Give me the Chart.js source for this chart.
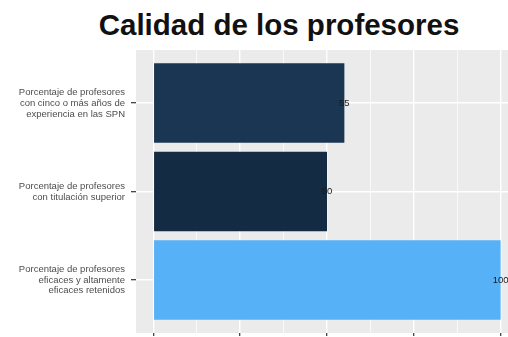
<!DOCTYPE html>
<html>
<head>
<meta charset="utf-8">
<script src="https://cdn.jsdelivr.net/npm/chart.js@4"></script>
<style>
  html, body { margin: 0; padding: 0; background: #fff; overflow: hidden; width: 508px; height: 337px; }
  #title { position: absolute; left: 0; top: 10px; width: 558px; text-align: center;
           font: bold 29.5px "Liberation Sans", Arial, sans-serif; line-height: 29px; color: #111; }
  #wrap { position: absolute; left: 0; top: 0; width: 518px; height: 360px; }
</style>
</head>
<body>
<div id="title">Calidad de los profesores</div>
<div id="wrap"><canvas id="chart"></canvas></div>
<script>
const categories = [
  ["Porcentaje de profesores", "con cinco o más años de", "experiencia en las SPN"],
  ["Porcentaje de profesores", "con titulación superior"],
  ["Porcentaje de profesores", "eficaces y altamente", "eficaces retenidos"]
];
const values = [55, 50, 100];
const xTicks = [0, 25, 50, 75, 100];

// ggplot-like gradient fill (low #132B43 -> high #56B1F7)
const barColors = ['#1a3652', '#132B43', '#56B1F7'];

const panelBg = {
  id: 'panelBg',
  beforeDraw(chart) {
    const a = chart.chartArea, c = chart.ctx;
    c.save();
    c.fillStyle = '#EBEBEB';
    c.fillRect(a.left, a.top, a.right - a.left, a.bottom - a.top);
    c.restore();
  }
};

const valueLabels = {
  id: 'valueLabels',
  afterDatasetsDraw(chart) {
    const c = chart.ctx;
    const meta = chart.getDatasetMeta(0);
    c.save();
    c.font = '9.5px "Liberation Sans", Arial, sans-serif';
    c.fillStyle = '#1a1a1a';
    c.textAlign = 'center';
    c.textBaseline = 'middle';
    meta.data.forEach((bar, i) => {
      c.fillText(String(values[i]), bar.x, bar.y);
    });
    c.restore();
  }
};

new Chart(document.getElementById('chart'), {
  type: 'bar',
  data: {
    datasets: [{
      data: values.map((v, i) => ({ x: v, y: i })),
      backgroundColor: barColors,
      borderWidth: 0,
      barPercentage: 0.9,
      categoryPercentage: 1
    }]
  },
  options: {
    indexAxis: 'y',
    responsive: true,
    maintainAspectRatio: false,
    animation: false,
    layout: { padding: { top: 50, left: 0, right: 0, bottom: 0 } },
    plugins: {
      legend: { display: false },
      tooltip: { enabled: false },
      title: { display: false }
    },
    scales: {
      x: {
        type: 'linear',
        min: -5,
        max: 105,
        afterBuildTicks(scale) {
          const t = [];
          for (let v = 0; v <= 100; v += 12.5) t.push({ value: v });
          scale.ticks = t;
        },
        afterFit(scale) { scale.height = 27; },
        border: { display: false },
        grid: {
          color: '#ffffff',
          lineWidth: ctx => (ctx.tick && xTicks.includes(ctx.tick.value)) ? 1.4 : 0.7,
          tickColor: ctx => (ctx.tick && xTicks.includes(ctx.tick.value)) ? '#333333' : 'rgba(0,0,0,0)',
          tickLength: 3,
          tickWidth: 1.2
        },
        ticks: {
          autoSkip: false,
          maxRotation: 0,
          padding: 4,
          color: '#4d4d4d',
          font: { family: '"Liberation Sans", Arial, sans-serif', size: 9.5 },
          callback: v => xTicks.includes(v) ? String(v) : ''
        }
      },
      y: {
        type: 'linear',
        reverse: true,
        offset: false,
        min: -0.6,
        max: 2.6,
        afterBuildTicks(scale) {
          scale.ticks = categories.map((c, i) => ({ value: i }));
        },
        afterFit(scale) { scale.width = 136; },
        border: { display: false },
        grid: {
          offset: false,
          color: '#ffffff',
          lineWidth: 1.4,
          tickColor: '#333333',
          tickLength: 5,
          tickWidth: 1.2
        },
        ticks: {
          autoSkip: false,
          padding: 6,
          color: '#4d4d4d',
          font: { family: '"Liberation Sans", Arial, sans-serif', size: 9.5, lineHeight: 1.15 },
          callback: v => categories[v] || ''
        }
      }
    }
  },
  plugins: [panelBg, valueLabels]
});
</script>
</body>
</html>
